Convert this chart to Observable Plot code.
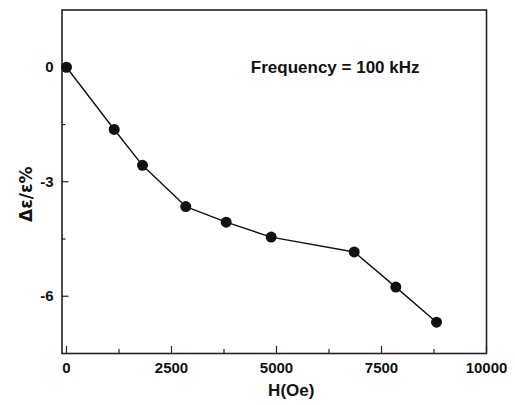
<!DOCTYPE html>
<html>
<head>
<meta charset="utf-8">
<script src="https://cdn.jsdelivr.net/npm/d3@7"></script>
<script src="https://cdn.jsdelivr.net/npm/@observablehq/plot@0.6"></script>
<style>
  html, body { margin: 0; padding: 0; background: #fff; }
  body { font-family: "Liberation Sans", Arial, sans-serif; }
</style>
</head>
<body>
<div id="chart"></div>
<script>
const fieldH = [0, 1136, 1810, 2840, 3802, 4873, 6850, 7841, 8810];
const deltaEps = [0, -1.63, -2.57, -3.65, -4.06, -4.45, -4.84, -5.76, -6.68];
const xMajorTicks = [0, 2500, 5000, 7500, 10000];
const xMinorTicks = [1250, 3750, 6250, 8750];
const yMajorTicks = [0, -3, -6];
const yMinorTicks = [-1.5, -4.5];
const xLabel = "H(Oe)";
const yLabel = "Δε/ε%";
const note = "Frequency = 100 kHz";

const data = fieldH.map((h, i) => ({h, d: deltaEps[i]}));

const chart = Plot.plot({
  width: 515,
  height: 405,
  marginLeft: 61.5,
  marginRight: 29,
  marginTop: 9.5,
  marginBottom: 52,
  style: {fontFamily: "'Liberation Sans', Arial, sans-serif", fontSize: "15px", fontWeight: "bold", color: "#111", background: "#fff"},
  x: {domain: [-107, 10000]},
  y: {domain: [-7.5, 1.5]},
  marks: [
    Plot.axisX(xMajorTicks, {tickSize: 0, tickPadding: 9, tickFormat: d => String(d), label: null, fontSize: 15, fontWeight: "bold"}),
    Plot.axisX(xMajorTicks, {tickSize: -7, tickFormat: () => "", label: null, stroke: "#222", strokeWidth: 1.2}),
    Plot.axisX(xMinorTicks, {tickSize: -4, tickFormat: () => "", label: null, stroke: "#222", strokeWidth: 1.2}),
    Plot.axisY(yMajorTicks, {tickSize: 0, tickPadding: 8.5, tickFormat: d => String(d), label: null, fontSize: 15, fontWeight: "bold"}),
    Plot.axisY(yMajorTicks, {tickSize: -7, tickFormat: () => "", label: null, stroke: "#222", strokeWidth: 1.2}),
    Plot.axisY(yMinorTicks, {tickSize: -4, tickFormat: () => "", label: null, stroke: "#222", strokeWidth: 1.2}),
    Plot.frame({stroke: "#222", strokeWidth: 1.6}),
    Plot.line(data, {x: "h", y: "d", stroke: "#111", strokeWidth: 1.4}),
    Plot.dot(data, {x: "h", y: "d", r: 5.5, fill: "#111", stroke: "none"}),
    Plot.text([note], {frameAnchor: "top-right", dx: -67, dy: 57.5, textAnchor: "end", lineAnchor: "middle", fontSize: 17, fontWeight: "bold", fill: "#111"}),
    Plot.text([xLabel], {frameAnchor: "bottom", dx: 17, dy: 37, textAnchor: "middle", lineAnchor: "middle", fontSize: 17, fontWeight: "bold", fill: "#111"}),
    Plot.text([yLabel], {frameAnchor: "left", dx: -35.5, dy: 12.5, rotate: -90, textAnchor: "middle", lineAnchor: "middle", fontSize: 17, fontFamily: "'DejaVu Sans', sans-serif", fontWeight: "bold", fill: "#111"})
  ]
});
document.getElementById("chart").appendChild(chart);
</script>
</body>
</html>
